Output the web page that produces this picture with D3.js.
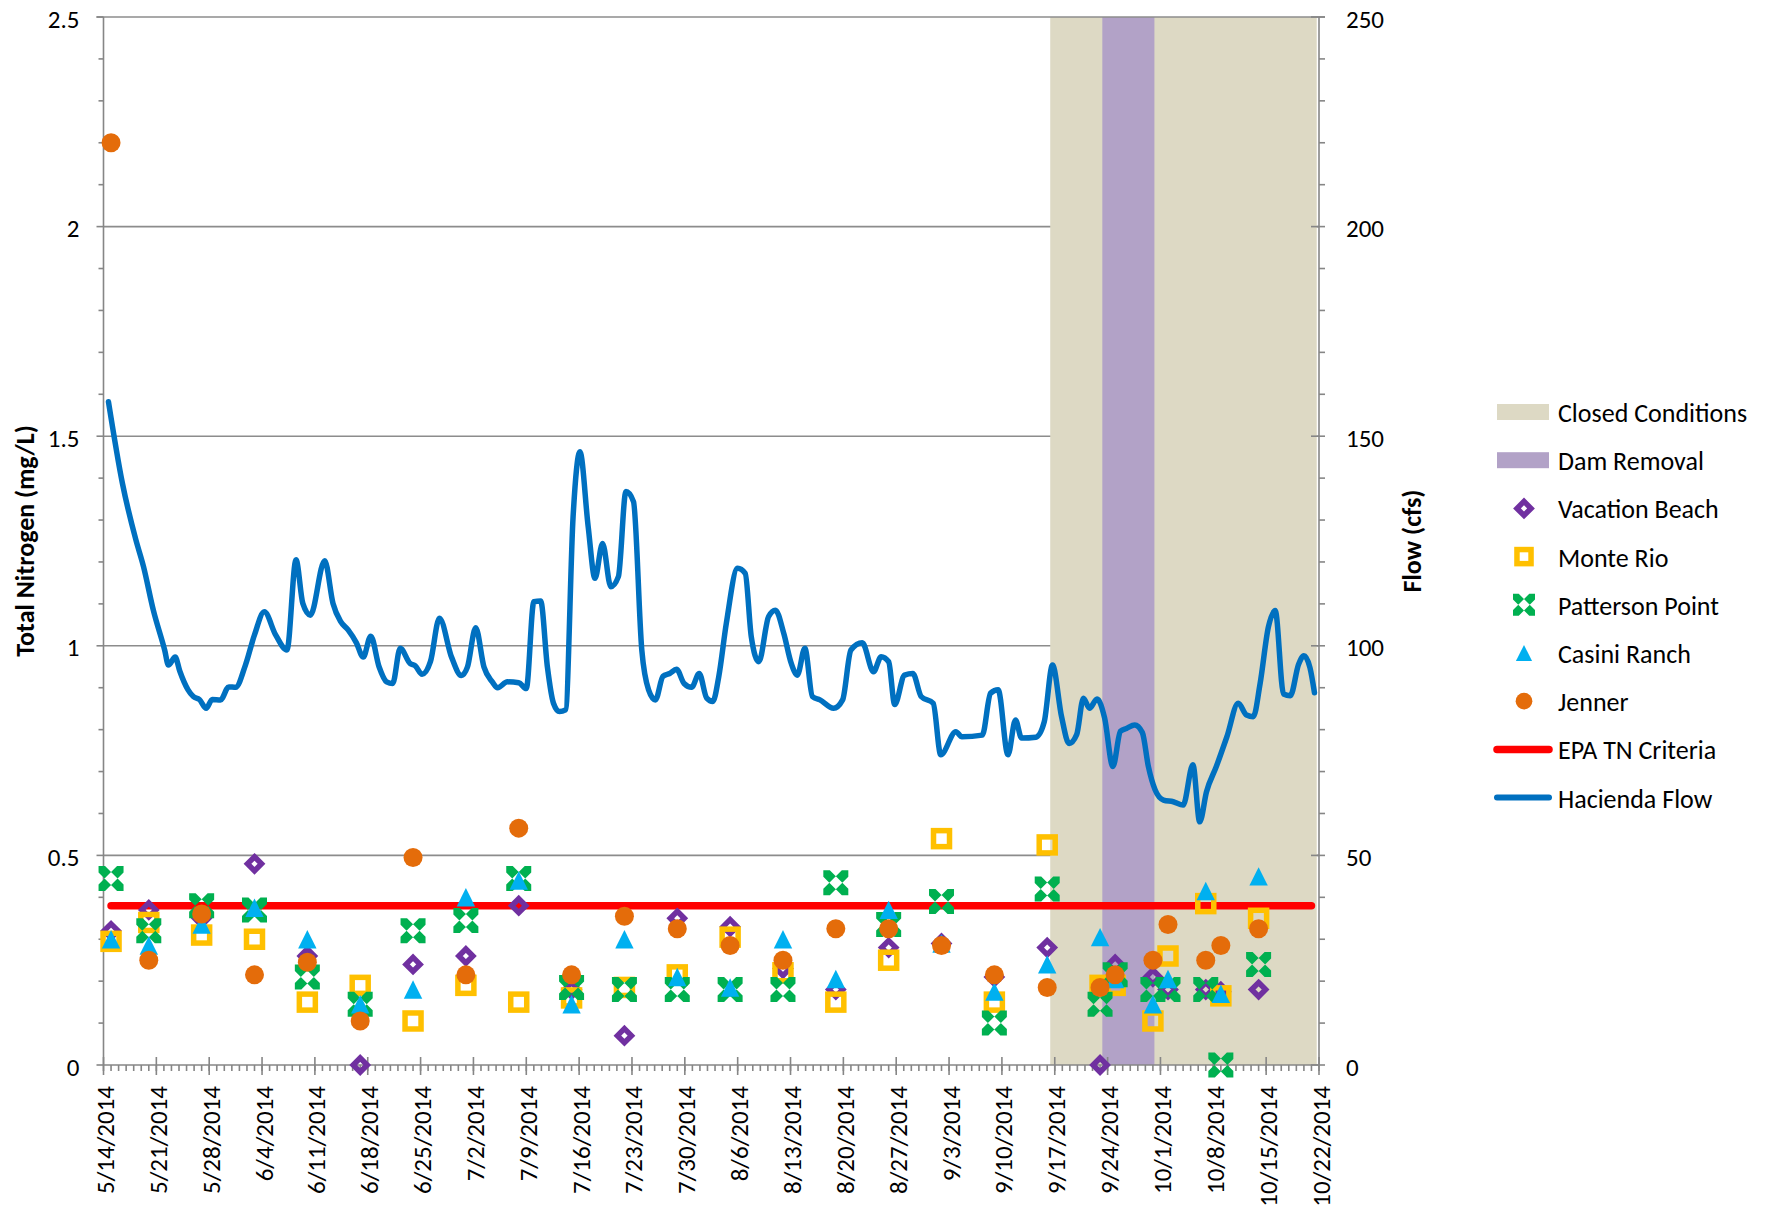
<!DOCTYPE html>
<html>
<head>
<meta charset="utf-8">
<script src="https://cdn.jsdelivr.net/npm/d3@7"></script>
<style>
  body { margin: 0; background: #fff; }
  text { font-family: Calibri, Carlito, 'Open Sans', sans-serif; fill: #000; }
</style>
</head>
<body>
<div id="chart"></div>
<script>
/* =========================================================
   DATA
========================================================= */

const xTickLabels = [
  '5/14/2014', '5/21/2014', '5/28/2014', '6/4/2014', '6/11/2014', '6/18/2014',
  '6/25/2014', '7/2/2014', '7/9/2014', '7/16/2014', '7/23/2014', '7/30/2014',
  '8/6/2014', '8/13/2014', '8/20/2014', '8/27/2014', '9/3/2014', '9/10/2014',
  '9/17/2014', '9/24/2014', '10/1/2014', '10/8/2014', '10/15/2014', '10/22/2014',
];
const tnTicks = [0, 0.5, 1, 1.5, 2, 2.5];
const flowTicks = [0, 50, 100, 150, 200, 250];

const sampleDates = [
  '5/15/2014', '5/20/2014', '5/27/2014', '6/3/2014', '6/10/2014', '6/17/2014',
  '6/24/2014', '7/1/2014', '7/8/2014', '7/15/2014', '7/22/2014', '7/29/2014',
  '8/5/2014', '8/12/2014', '8/19/2014', '8/26/2014', '9/2/2014', '9/9/2014',
  '9/16/2014', '9/23/2014', '9/25/2014', '9/30/2014', '10/2/2014', '10/7/2014',
  '10/9/2014', '10/14/2014',
];
const vacationBeach = [0.32, 0.37, 0.35, 0.48, 0.26, 0.0, 0.24, 0.26, 0.38, 0.18, 0.07, 0.35, 0.33,
  0.23, 0.18, 0.28, 0.29, 0.21, 0.28, 0.0, 0.24, 0.21, 0.18, 0.18, 0.175, 0.18];
const monteRio = [0.295, 0.34, 0.31, 0.30, 0.15, 0.19, 0.105, 0.19, 0.15, 0.16, 0.185, 0.215, 0.305,
  0.22, 0.15, 0.25, 0.54, 0.15, 0.525, 0.19, 0.19, 0.105, 0.26, 0.385, 0.165, 0.35];
const pattersonPoint = [0.445, 0.32, 0.38, 0.37, 0.21, 0.145, 0.32, 0.345, 0.445, 0.185, 0.18, 0.18, 0.18,
  0.18, 0.435, 0.335, 0.39, 0.10, 0.42, 0.145, 0.215, 0.18, 0.18, 0.18, 0.0, 0.24];
const casiniRanch = [0.30, 0.285, 0.335, 0.375, 0.30, 0.145, 0.18, 0.40, 0.44, 0.145, 0.30, 0.21, 0.185,
  0.30, 0.205, 0.37, 0.29, 0.175, 0.24, 0.305, 0.205, 0.145, 0.205, 0.415, 0.17, 0.45];
const jenner = [2.2, 0.25, 0.36, 0.215, 0.245, 0.105, 0.495, 0.215, 0.565, 0.215, 0.355, 0.325, 0.285,
  0.25, 0.325, 0.325, 0.285, 0.215, 0.185, 0.185, 0.215, 0.25, 0.335, 0.25, 0.285, 0.325];

const epaCriteria = 0.38;
const epaRange = ['5/15/2014', '10/21/2014'];

// band limits, days after 5/14/2014
const closedConditions = [125.4, 160.7];
const damRemoval = [132.3, 139.2];

// Hacienda flow (cfs), read at days after 5/14/2014
const flowDays = [0.66, 2.5, 4.3, 5.3, 6.6, 8.1, 8.6, 9.5, 10.1, 11.2, 11.9, 12.7, 13.6, 14.4, 15.5,
  16.6, 17.5, 18.8, 20.0, 21.3, 22.8, 24.3, 25.5, 26.4, 27.4, 29.3, 30.4, 31.4, 32.4, 33.5, 34.4,
  35.4, 36.5, 37.5, 38.3, 39.3, 40.6, 41.3, 42.2, 43.3, 44.5, 46.1, 47.4, 48.2, 49.3, 50.4, 51.5,
  52.2, 53.5, 55.0, 56.0, 57.0, 57.9, 58.8, 59.6, 60.4, 61.2, 62.2, 63.1, 64.2, 65.1, 66.1, 67.2,
  68.2, 69.2, 70.2, 71.3, 72.2, 73.1, 74.1, 75.0, 75.9, 76.9, 77.9, 78.9, 79.9, 80.7, 81.5, 82.5,
  84.0, 85.0, 85.8, 86.8, 88.1, 89.0, 90.1, 91.1, 91.9, 92.9, 93.9, 94.9, 96.7, 97.9, 99.0, 100.5,
  102.0, 103.0, 104.0, 104.8, 106.1, 107.2, 108.3, 109.9, 110.9, 112.9, 113.7, 116.4, 117.5, 118.5,
  119.8, 120.8, 121.6, 123.5, 124.6, 125.7, 126.9, 127.9, 128.9, 129.8, 130.6, 131.6, 132.6, 133.7,
  134.7, 135.5, 136.6, 137.6, 138.4, 139.3, 140.4, 141.7, 143.0, 144.3, 145.2, 146.1, 147.4, 148.8,
  150.3, 151.4, 152.3, 153.2, 154.3, 155.2, 156.3, 157.2, 158.3, 159.0, 159.8, 160.4];
const flowCfs = [158.2, 138.8, 125.2, 118.9, 108.5, 99.0, 95.4, 97.3, 94.0, 89.5, 87.9, 87.2, 85.1, 87.2, 87.1,
  90.2, 90.1, 95.4, 102.6, 108.1, 102.6, 99.0, 120.5, 110.1, 107.3, 120.3, 110.1, 105.8, 103.8, 100.7, 97.3,
  102.3, 95.0, 91.4, 91.0, 99.4, 95.8, 95.2, 93.2, 96.2, 106.6, 97.3, 92.9, 94.9, 104.3, 94.9, 91.4,
  90.0, 91.4, 91.2, 89.8, 110.5, 110.7, 94.9, 86.3, 84.3, 84.7, 130.8, 146.3, 128.4, 116.1, 124.4, 114.1,
  116.5, 136.8, 134.4, 99.0, 89.5, 87.1, 92.7, 93.4, 94.4, 91.0, 90.1, 93.4, 87.5, 86.7, 92.7, 105.4,
  118.5, 117.3, 102.2, 96.2, 107.0, 108.5, 103.0, 95.8, 93.0, 99.4, 87.9, 87.1, 85.1, 87.1, 99.0, 100.7,
  93.8, 97.4, 96.2, 86.0, 93.0, 93.4, 87.9, 86.3, 74.0, 79.5, 78.3, 78.7, 88.7, 89.5,
  74.0, 82.3, 78.0, 78.2, 81.8, 95.4, 83.1, 76.7, 78.8, 87.5, 85.1, 87.3, 82.8, 71.2,
  79.6, 80.3, 81.1, 79.3, 71.2, 65.6, 63.2, 62.8, 62.0, 71.6, 58.0, 65.2, 71.2, 78.3,
  86.3, 83.5, 83.1, 91.0, 104.5, 108.4, 88.5, 88.1, 95.6, 97.6, 94.8, 88.8];

/* =========================================================
   CONFIGURATION
========================================================= */

const CONFIG = {
  width: 1772,
  height: 1213,
  plot: { left: 103.5, right: 1319, top: 17, bottom: 1065 },
  axisColor: '#868686',
  gridColor: '#8c8c8c',
  tickFont: 25,
  legendFont: 26,
  titleFont: 26,
};

const COLORS = {
  closed: '#ddd9c4',
  dam: '#b2a2c7',
  vacation: '#7030a0',
  monte: '#ffc000',
  patterson: '#00b050',
  casini: '#00b0f0',
  jenner: '#e46c0a',
  epa: '#ff0000',
  flow: '#0070c0',
};

const P = CONFIG.plot;
const parseDate = d3.timeParse('%m/%d/%Y');
const day0 = parseDate(xTickLabels[0]);
const fromDays = (d) => new Date(+day0 + d * 864e5);

/* =====================================================
   SVG + SCALES
===================================================== */

const svg = d3
  .select('#chart')
  .append('svg')
  .attr('width', CONFIG.width)
  .attr('height', CONFIG.height);

const x = d3
  .scaleTime()
  .domain([parseDate(xTickLabels[0]), parseDate(xTickLabels[xTickLabels.length - 1])])
  .range([P.left, P.right]);
const yTN = d3.scaleLinear().domain([0, 2.5]).range([P.bottom, P.top]);
const yFlow = d3.scaleLinear().domain([0, 250]).range([P.bottom, P.top]);

/* =====================================================
   GRID + BANDS
===================================================== */

svg
  .append('g')
  .selectAll('line')
  .data(tnTicks.filter((d) => d > 0 && d < 2.5))
  .enter()
  .append('line')
  .attr('x1', P.left)
  .attr('x2', P.right)
  .attr('y1', (d) => yTN(d))
  .attr('y2', (d) => yTN(d))
  .attr('stroke', CONFIG.gridColor)
  .attr('stroke-width', 1.6);

const bands = [
  { range: closedConditions, fill: COLORS.closed },
  { range: damRemoval, fill: COLORS.dam },
];
svg
  .append('g')
  .selectAll('rect')
  .data(bands)
  .enter()
  .append('rect')
  .attr('x', (d) => x(fromDays(d.range[0])))
  .attr('width', (d) => x(fromDays(d.range[1])) - x(fromDays(d.range[0])))
  .attr('y', P.top)
  .attr('height', P.bottom - P.top)
  .attr('fill', (d) => d.fill);

// top border line (2.5)
svg
  .append('line')
  .attr('x1', P.left - 7)
  .attr('x2', P.right + 6)
  .attr('y1', yTN(2.5))
  .attr('y2', yTN(2.5))
  .attr('stroke', CONFIG.gridColor)
  .attr('stroke-width', 1.6);

/* =====================================================
   AXES
===================================================== */

const axisG = svg.append('g').attr('stroke', CONFIG.axisColor).attr('stroke-width', 1.6);

// left axis
axisG.append('line').attr('x1', P.left).attr('x2', P.left).attr('y1', P.top).attr('y2', P.bottom);
axisG
  .selectAll('.tn-minor')
  .data(d3.range(0, 26).map((i) => i / 10))
  .enter()
  .append('line')
  .attr('x1', (d) => (tnTicks.includes(d) ? P.left - 7 : P.left - 5))
  .attr('x2', P.left)
  .attr('y1', (d) => yTN(d))
  .attr('y2', (d) => yTN(d));

svg
  .append('g')
  .selectAll('text')
  .data(tnTicks)
  .enter()
  .append('text')
  .attr('x', P.left - 24)
  .attr('y', (d) => yTN(d) + 2)
  .attr('text-anchor', 'end')
  .attr('dominant-baseline', 'central')
  .style('font-size', CONFIG.tickFont + 'px')
  .text((d) => d3.format('')(d));

// right axis
axisG.append('line').attr('x1', P.right).attr('x2', P.right).attr('y1', P.top).attr('y2', P.bottom);
axisG
  .selectAll('.flow-minor')
  .data(d3.range(0, 251, 10))
  .enter()
  .append('line')
  .attr('x1', (d) => (flowTicks.includes(d) ? P.right - 8 : P.right))
  .attr('x2', P.right + 6)
  .attr('y1', (d) => yFlow(d))
  .attr('y2', (d) => yFlow(d));

svg
  .append('g')
  .selectAll('text')
  .data(flowTicks)
  .enter()
  .append('text')
  .attr('x', P.right + 27)
  .attr('y', (d) => yFlow(d) + 2)
  .attr('dominant-baseline', 'central')
  .style('font-size', CONFIG.tickFont + 'px')
  .text((d) => d);

// bottom axis
axisG.append('line').attr('x1', P.left).attr('x2', P.right).attr('y1', P.bottom).attr('y2', P.bottom);
const allDays = d3.timeDay.range(x.domain()[0], d3.timeDay.offset(x.domain()[1], 1));
axisG
  .selectAll('.x-minor')
  .data(allDays)
  .enter()
  .append('line')
  .attr('x1', (d) => x(d))
  .attr('x2', (d) => x(d))
  .attr('y1', P.bottom)
  .attr('y2', P.bottom + 6);
axisG
  .selectAll('.x-major')
  .data(xTickLabels)
  .enter()
  .append('line')
  .attr('x1', (d) => x(parseDate(d)))
  .attr('x2', (d) => x(parseDate(d)))
  .attr('y1', P.bottom - 8)
  .attr('y2', P.bottom + 10);

svg
  .append('g')
  .selectAll('text')
  .data(xTickLabels)
  .enter()
  .append('text')
  .attr('transform', (d) => `translate(${x(parseDate(d)) + 2},${P.bottom + 21}) rotate(-90)`)
  .attr('text-anchor', 'end')
  .attr('dominant-baseline', 'central')
  .style('font-size', CONFIG.tickFont + 'px')
  .text((d) => d);

// axis titles
svg
  .append('text')
  .attr('transform', `translate(25,${(P.top + P.bottom) / 2}) rotate(-90)`)
  .attr('text-anchor', 'middle')
  .attr('dominant-baseline', 'central')
  .style('font-size', CONFIG.titleFont + 'px')
  .style('font-weight', 'bold')
  .text('Total Nitrogen (mg/L)');

svg
  .append('text')
  .attr('transform', `translate(1412,${(P.top + P.bottom) / 2}) rotate(-90)`)
  .attr('text-anchor', 'middle')
  .attr('dominant-baseline', 'central')
  .style('font-size', CONFIG.titleFont + 'px')
  .style('font-weight', 'bold')
  .text('Flow (cfs)');

/* =====================================================
   LINES
===================================================== */

const flowLine = d3
  .line()
  .curve(d3.curveMonotoneX)
  .x((d) => x(fromDays(d[0])))
  .y((d) => yFlow(d[1]));

svg
  .append('path')
  .datum(flowDays.map((d, i) => [d, flowCfs[i]]))
  .attr('d', flowLine)
  .attr('fill', 'none')
  .attr('stroke', COLORS.flow)
  .attr('stroke-width', 5.5)
  .attr('stroke-linecap', 'round')
  .attr('stroke-linejoin', 'round');

svg
  .append('line')
  .attr('x1', x(parseDate(epaRange[0])))
  .attr('x2', x(parseDate(epaRange[1])))
  .attr('y1', yTN(epaCriteria))
  .attr('y2', yTN(epaCriteria))
  .attr('stroke', COLORS.epa)
  .attr('stroke-width', 7.5)
  .attr('stroke-linecap', 'round');

/* =====================================================
   MARKERS
===================================================== */

// thick x clipped to its square box (Excel style)
function xShape(r, d) {
  const arm = [[-r, -r], [-r + d, -r], [r, r - d], [r, r], [r - d, r], [-r, -r + d]];
  const p1 = 'M' + arm.map((p) => p.join(',')).join('L') + 'Z';
  const p2 = 'M' + arm.map((p) => [-p[0], p[1]].join(',')).join('L') + 'Z';
  return p1 + p2;
}

function drawMarker(g, type, color, legend) {
  const k = legend ? 0.88 : 1;
  if (type === 'diamond') {
    g.append('path')
      .attr('d', 'M0,-7L7,0L0,7L-7,0Z')
      .attr('fill', 'none')
      .attr('stroke', color)
      .attr('stroke-width', 5.5);
  } else if (type === 'square') {
    const s = 16 * k;
    g.append('rect')
      .attr('x', -s / 2)
      .attr('y', -s / 2)
      .attr('width', s)
      .attr('height', s)
      .attr('fill', 'none')
      .attr('stroke', color)
      .attr('stroke-width', 5.5);
  } else if (type === 'x') {
    g.append('path').attr('d', xShape(12.5 * k, 6.5 * k)).attr('fill', color);
  } else if (type === 'triangle') {
    const h = 9.2 * k;
    g.append('path').attr('d', `M0,${-h}L${h},${h}L${-h},${h}Z`).attr('fill', color);
  } else if (type === 'circle') {
    g.append('circle').attr('r', 9.5 * k).attr('fill', color);
  }
}

const sites = [
  { name: 'Vacation Beach', values: vacationBeach, type: 'diamond', color: COLORS.vacation },
  { name: 'Monte Rio', values: monteRio, type: 'square', color: COLORS.monte },
  { name: 'Patterson Point', values: pattersonPoint, type: 'x', color: COLORS.patterson },
  { name: 'Casini Ranch', values: casiniRanch, type: 'triangle', color: COLORS.casini },
  { name: 'Jenner', values: jenner, type: 'circle', color: COLORS.jenner },
];

sites.forEach((site) => {
  const layer = svg.append('g');
  site.values.forEach((v, i) => {
    const g = layer
      .append('g')
      .attr('transform', `translate(${x(parseDate(sampleDates[i]))},${yTN(v)})`);
    drawMarker(g, site.type, site.color, false);
  });
});

/* =====================================================
   LEGEND
===================================================== */

const legendItems = [
  { name: 'Closed Conditions', kind: 'band', color: COLORS.closed },
  { name: 'Dam Removal', kind: 'band', color: COLORS.dam },
  ...sites.map((s) => ({ name: s.name, kind: 'marker', type: s.type, color: s.color })),
  { name: 'EPA TN Criteria', kind: 'line', color: COLORS.epa, width: 7.5 },
  { name: 'Hacienda Flow', kind: 'line', color: COLORS.flow, width: 6 },
];

const legend = svg.append('g');
legendItems.forEach((item, i) => {
  const cy = 412 + i * 48.2;
  const g = legend.append('g').attr('transform', `translate(0,${cy})`);
  if (item.kind === 'band') {
    g.append('rect').attr('x', 1497).attr('y', -8).attr('width', 52).attr('height', 16).attr('fill', item.color);
  } else if (item.kind === 'line') {
    g.append('line')
      .attr('x1', 1497)
      .attr('x2', 1549)
      .attr('stroke', item.color)
      .attr('stroke-width', item.width)
      .attr('stroke-linecap', 'round');
  } else {
    drawMarker(g.append('g').attr('transform', 'translate(1524,0)'), item.type, item.color, true);
  }
  g.append('text')
    .attr('x', 1558)
    .attr('y', 1)
    .attr('dominant-baseline', 'central')
    .style('font-size', CONFIG.legendFont + 'px')
    .text(item.name);
});
</script>
</body>
</html>
